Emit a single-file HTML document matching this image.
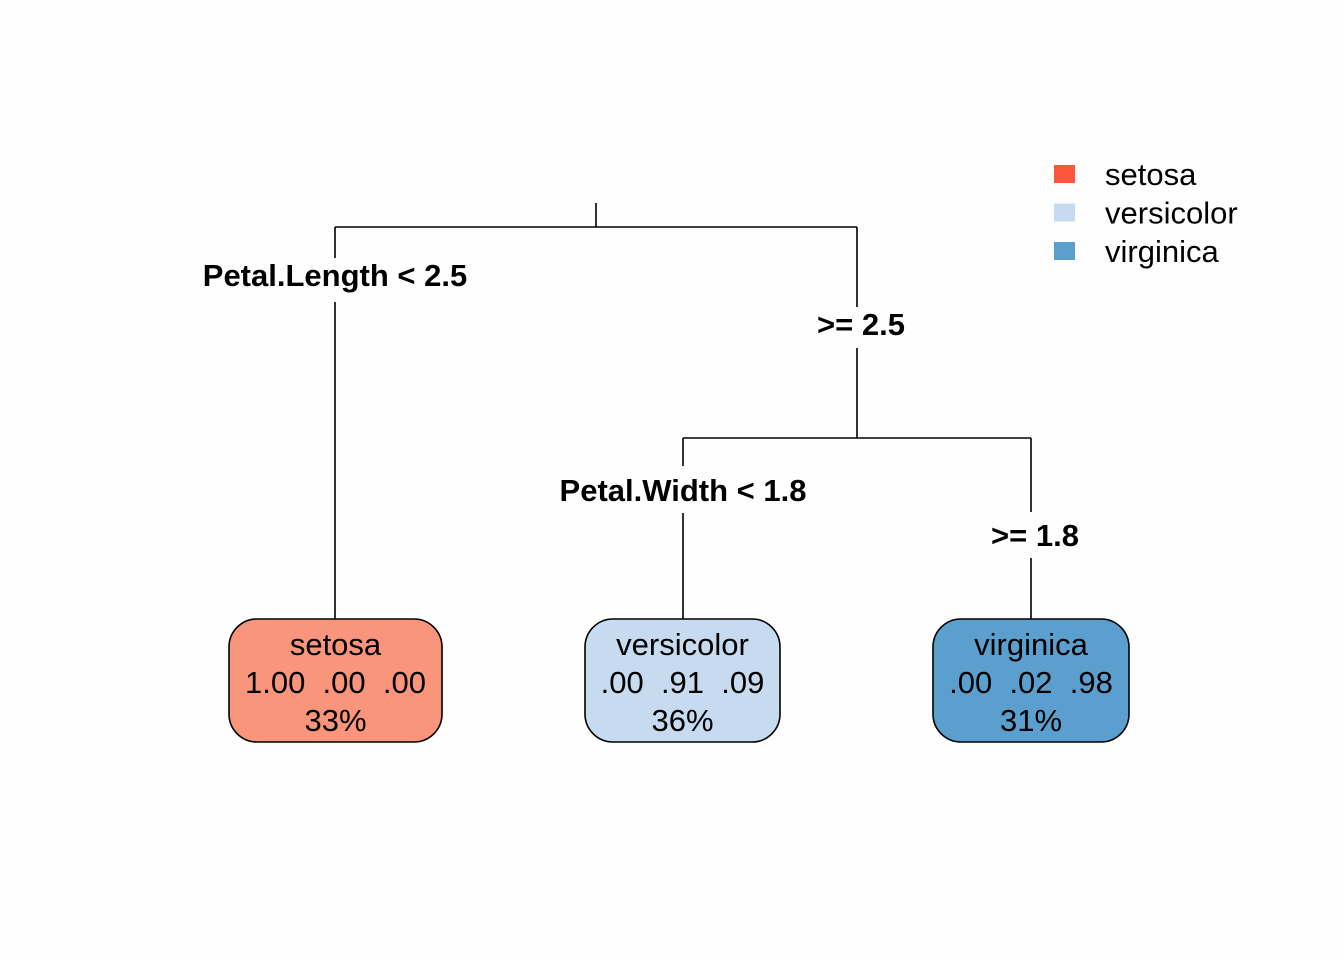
<!DOCTYPE html>
<html><head><meta charset="utf-8"><style>
html,body{margin:0;padding:0;background:#fff}
svg{display:block;font-family:"Liberation Sans",Arial,sans-serif}
</style></head><body>
<svg id="chart" width="1344" height="960" viewBox="0 0 1344 960" xmlns="http://www.w3.org/2000/svg">
<rect width="1344" height="960" fill="#fefefe"/>
<g id="edges" stroke="#000" stroke-width="1.6" fill="none">
<path d="M596 203V227M335 227H857M335 227V258M335 302V619M857 227V307M857 348V438M683 438H1031M683 438V466M683 513V619M1031 438V512M1031 558V619"/>
</g>
<g id="labels" font-weight="bold" font-size="31" text-anchor="middle"></g>
<g id="nodes"></g>
<g id="legend"></g>
</svg>
<script>
const classes = ["setosa","versicolor","virginica"];
const legendColors = ["#FB563B","#C6DBEF","#5A9FCD"];
const leafClass = ["setosa","versicolor","virginica"];
const leafProbs = [["1.00",".00",".00"],[".00",".91",".09"],[".00",".02",".98"]];
const leafPct = ["33%","36%","31%"];
const leafFill = ["#F9957A","#C6DBEF","#5A9FCD"];
const splitText = ["Petal.Length < 2.5",">= 2.5","Petal.Width < 1.8",">= 1.8"];

const NS="http://www.w3.org/2000/svg";
function mk(t,a,p){const e=document.createElementNS(NS,t);for(const k in a)e.setAttribute(k,a[k]);p.appendChild(e);return e;}

const labelPos=[[335,275],[861,324],[683,490],[1035,535]];
const lg=document.getElementById('labels');
splitText.forEach((s,i)=>{
  const [x,y]=labelPos[i];
  const t=mk('text',{x:x,y:y+11},lg);t.textContent=s;
  
  
});

const leafBox=[[229,442],[585,780],[933,1129]];
const ng=document.getElementById('nodes');
leafClass.forEach((c,i)=>{
  const [x0,x1]=leafBox[i];const cx=(x0+x1)/2;
  const g=mk('g',{},ng);
  
  
  mk('rect',{x:x0,y:619,width:x1-x0,height:123,rx:28,ry:28,fill:leafFill[i],stroke:'#000','stroke-width':1.6},g);
  const lines=[c,leafProbs[i].join('  '),leafPct[i]];
  lines.forEach((s,j)=>{
    const t=mk('text',{x:cx,y:655+j*38,'font-size':31,'text-anchor':'middle'},g);
    t.setAttribute('style','white-space:pre');
    t.textContent=s;
  });
});

const leg=document.getElementById('legend');
classes.forEach((c,i)=>{
  const y=174+i*38.5;
  const r=mk('rect',{x:1054,y:y-9,width:21,height:18,fill:legendColors[i]},leg);
  
  
  const t=mk('text',{x:1105,y:y+11,'font-size':31},leg);t.textContent=c;
  
  
});
</script>
</body></html>
